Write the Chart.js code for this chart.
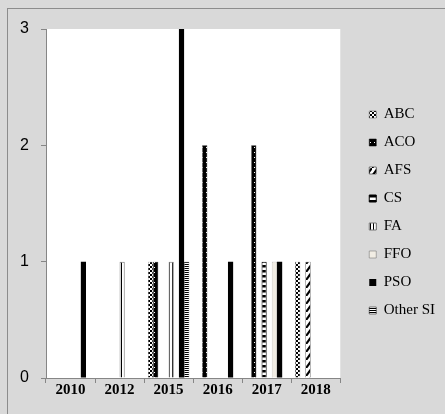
<html>
<head>
  <title>Cases by year</title>
  <script src="https://cdn.jsdelivr.net/npm/chart.js"></script>
  <style>
    body { margin: 0; background: #d9d9d9; }
    #frame { position: absolute; left: 7px; top: 8px; width: 460px; height: 430px;
             border-left: 1px solid #8c8c8c; border-top: 1px solid #8c8c8c; }
    #wrap { position: absolute; left: 0; top: 0; width: 445px; height: 414px; }
  </style>
</head>
<body>
  <div id="frame"></div>
  <div id="wrap"><canvas id="chart"></canvas></div>
  <script>
    const years = ["2010", "2012", "2015", "2016", "2017", "2018"];
    const abc    = [0, 0, 1, 0, 0, 1];
    const aco    = [0, 0, 1, 2, 2, 0];
    const afs    = [0, 0, 0, 0, 0, 1];
    const cs     = [0, 0, 0, 0, 1, 0];
    const fa     = [0, 1, 1, 0, 0, 0];
    const ffo    = [0, 0, 0, 0, 1, 0];
    const pso    = [1, 0, 3, 1, 1, 0];
    const other  = [0, 0, 1, 0, 0, 0];
    const yTicks = [0, 1, 2, 3];

    // small tiles for the hatched fills
    function tile(w, h, draw) {
      const c = document.createElement("canvas");
      c.width = w; c.height = h;
      const g = c.getContext("2d");
      draw(g);
      return g.createPattern(c, "repeat");
    }
    const checker = tile(4, 4, g => {
      g.fillStyle = "#fff"; g.fillRect(0, 0, 4, 4);
      g.fillStyle = "#000"; g.fillRect(0, 0, 2, 2); g.fillRect(2, 2, 2, 2);
    });
    const dots = tile(4, 5, g => {
      g.fillStyle = "#000"; g.fillRect(0, 0, 4, 5);
      g.fillStyle = "#fff"; g.fillRect(2, 2, 1, 1);
    });
    const slash = tile(6, 8, g => {
      g.fillStyle = "#fff"; g.fillRect(0, 0, 6, 8);
      g.strokeStyle = "#000"; g.lineWidth = 2.2;
      g.beginPath(); g.moveTo(0, 8); g.lineTo(6, 0); g.stroke();
    });
    const bands = tile(1, 5, g => {
      g.fillStyle = "#fff"; g.fillRect(0, 0, 1, 5);
      g.fillStyle = "#000"; g.fillRect(0, 0, 1, 2.5);
    });
    const vlines = tile(3, 1, g => {
      g.fillStyle = "#fff"; g.fillRect(0, 0, 3, 1);
      g.fillStyle = "#000"; g.fillRect(1, 0, 1, 1);
    });
    const hlines = tile(1, 2, g => {
      g.fillStyle = "#fff"; g.fillRect(0, 0, 1, 2);
      g.fillStyle = "#000"; g.fillRect(0, 0, 1, 1);
    });

    const plotBg = {
      id: "plotBg",
      beforeDraw(chart) {
        const a = chart.chartArea, ctx = chart.ctx;
        ctx.save();
        ctx.fillStyle = "#fff";
        ctx.fillRect(a.left, a.top, a.right - a.left, a.bottom - a.top);
        ctx.restore();
      }
    };

    function series(label, data, fill, border, bw) {
      return { label, data, backgroundColor: fill, borderColor: border, borderWidth: bw,
               categoryPercentage: 0.842, barPercentage: 1 };
    }

    new Chart(document.getElementById("chart"), {
      type: "bar",
      data: {
        labels: years,
        datasets: [
          series("ABC", abc, checker, "#555", 0.5),
          series("ACO", aco, dots, "#000", 0.5),
          series("AFS", afs, slash, "#000", 0.5),
          series("CS", cs, bands, "#000", 1),
          series("FA", fa, vlines, "#777", 1),
          series("FFO", ffo, "#f1ede4", "#666", 0.5),
          series("PSO", pso, "#000", "#000", 0),
          series("Other SI", other, hlines, "#000", 0.5)
        ]
      },
      options: {
        responsive: true,
        maintainAspectRatio: false,
        animation: false,
        layout: { padding: { left: 8, top: 29, right: 0, bottom: 18 } },
        plugins: {
          tooltip: { enabled: false },
          legend: {
            position: "right",
            labels: {
              color: "#000",
              boxWidth: 7,
              boxHeight: 7,
              padding: 13,
              font: { family: "Liberation Serif", size: 15 }
            }
          }
        },
        scales: {
          x: {
            grid: { drawOnChartArea: false, tickLength: 5, color: "#868686" },
            border: { color: "#868686" },
            ticks: { color: "#000", padding: -2, font: { family: "Liberation Serif", size: 15, weight: "bold" } },
            afterFit(s) { s.height = 18; }
          },
          y: {
            min: 0, max: 3,
            grid: { drawOnChartArea: false, tickLength: 5, color: "#868686" },
            border: { color: "#868686" },
            afterBuildTicks(s) { s.ticks = yTicks.map(v => ({ value: v })); },
            ticks: { color: "#000", padding: 12, font: { family: "Liberation Sans", size: 16 } },
            afterFit(s) { s.width = 38; }
          },
          // empty strip between the plot and the legend
          gap: {
            type: "linear",
            position: "right",
            display: false,
            afterFit(s) { s.width = 16; }
          }
        }
      },
      plugins: [plotBg]
    });
  </script>
</body>
</html>
